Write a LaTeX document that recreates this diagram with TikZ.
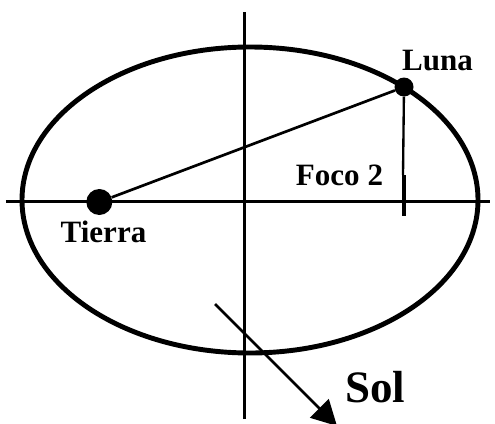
\documentclass[tikz,border=0pt]{standalone}
\usepackage{fontspec}
\setmainfont{Liberation Serif}
\usetikzlibrary{arrows.meta}
\tikzset{
    eje/.style={line width=2.6pt},
    planeta/.style={circle, fill=black, inner sep=0pt},
    etiqueta/.style={font=\bfseries\fontsize{26.5}{30}\selectfont, inner sep=0pt, anchor=base},
}
\begin{document}
\begin{tikzpicture}
    \useasboundingbox (0,0) rectangle (14.85,12.69);
    % Ejes
    \draw[eje] (0.18,6.645) -- (14.7,6.645);
    \draw[eje] (7.33,0.12) -- (7.33,12.33);
    % Orbita
    \draw[line width=4.2pt] (7.5,6.69) ellipse (6.84 and 4.59);
    % Tierra y Luna
    \node[planeta, minimum size=0.78cm] (tierra) at (2.98,6.63) {};
    \node[planeta, minimum size=0.57cm] (luna) at (12.12,10.08) {};
    \draw[line width=2.3pt] (tierra) -- (luna);
    % Foco 2
    \coordinate (foco) at (12.09,7.44);
    \draw[line width=2pt] (luna) -- (foco);
    \draw[line width=2.6pt] (12.12,7.44) -- (12.12,6.21);
    \node[etiqueta] (lfoco) at (10.185,7.14) {Foco 2};
    \node[etiqueta] (ltierra) at (3.105,5.43) {Tierra};
    \node[etiqueta] (lluna) at (13.125,10.59) {Luna};
    % Sol
    \coordinate (solini) at (6.45,3.57);
    \coordinate (solfin) at (10.11,-0.09);
    \draw[line width=2.4pt, -{Triangle[length=0.75cm, width=0.78cm]}] (solini) -- (solfin);
    \node[etiqueta, font=\bfseries\fontsize{38.4}{42}\selectfont] (lsol) at (11.25,0.63) {Sol};
\end{tikzpicture}
\end{document}
